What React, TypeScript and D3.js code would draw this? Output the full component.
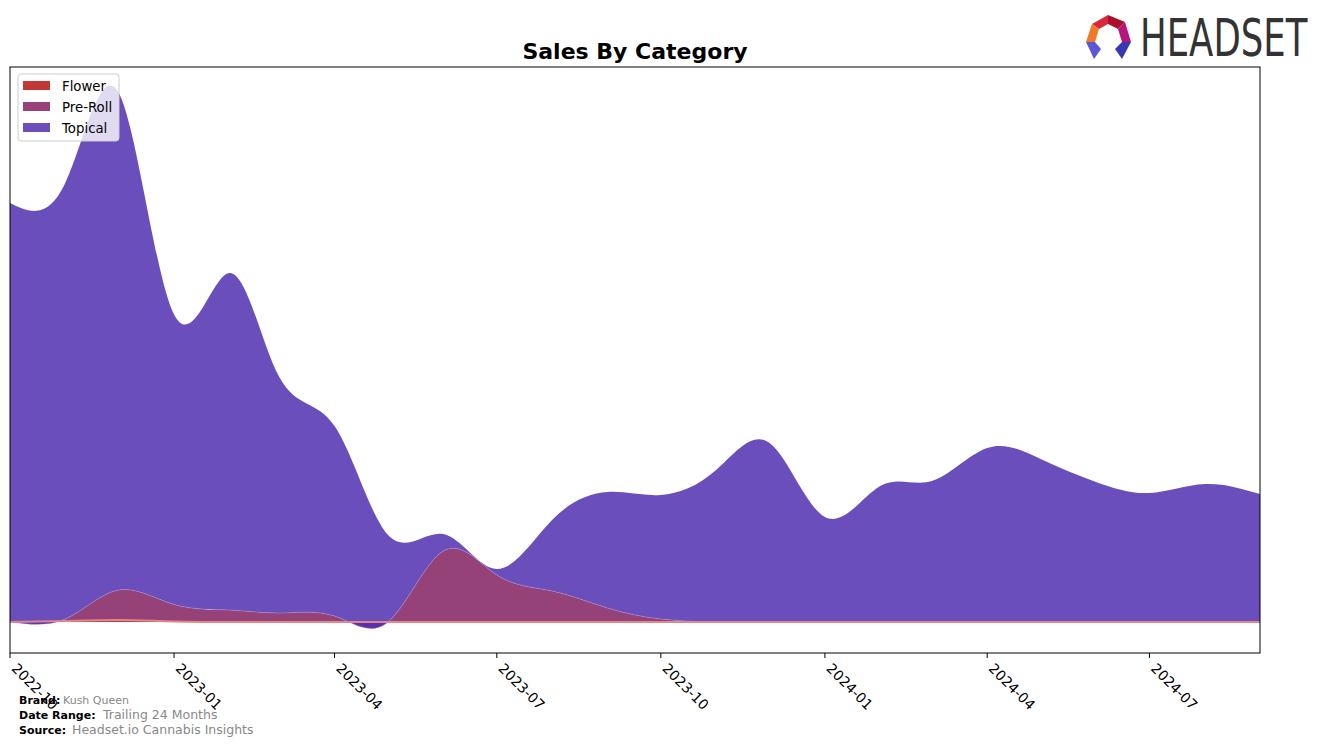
import React from "react";
import * as d3 from "d3";

const months = [
  "2022-10", "2022-11", "2022-12", "2023-01", "2023-02", "2023-03",
  "2023-04", "2023-05", "2023-06", "2023-07", "2023-08", "2023-09",
  "2023-10", "2023-11", "2023-12", "2024-01", "2024-02", "2024-03",
  "2024-04", "2024-05", "2024-06", "2024-07", "2024-08", "2024-09",
];
const flower = [0, 1, 2, 0.5, 0, 0, 0, 0, 0, 0, 0, 0, 0, 0, 0, 0, 0, 0, 0, 0, 0, 0, 0, 0];
const preRoll = [0, 2, 30, 17, 12, 9, 6, 0, 71, 47, 31, 14, 3, 0, 0, 0, 0, 0, 0, 0, 0, 0, 0, 0];
const topical = [419, 436, 497, 290, 337, 236, 190, 87, 17, 6, 71, 116, 124, 152, 179, 105, 136, 141, 174, 163, 140, 129, 138, 128];

const seriesNames = ["Flower", "Pre-Roll", "Topical"];
const seriesColors = ["#b81414", "#832160", "#502fb0"];
const legendColors = ["#c43737", "#984279", "#6a4ebc"];

const yDomain = [-31, 555];

const W = 1324;
const H = 747;
const plot = { left: 10, right: 1260, top: 67, bottom: 653 };

export default function App() {
  const parse = d3.timeParse("%Y-%m");
  const dates = months.map((m) => parse(m) as Date);
  const rows = months.map((m, i) => ({
    date: dates[i],
    Flower: flower[i],
    "Pre-Roll": preRoll[i],
    Topical: topical[i],
  }));
  const stack = d3.stack<any>().keys(seriesNames);
  const layers = stack(rows);

  const x = d3
    .scaleTime()
    .domain([dates[0], dates[dates.length - 1]])
    .range([plot.left, plot.right]);
  const y = d3.scaleLinear().domain(yDomain).range([plot.bottom, plot.top]);

  const area = d3
    .area<any>()
    .x((d) => x(d.data.date))
    .y0((d) => y(d[0]))
    .y1((d) => y(d[1]))
    .curve(d3.curveNatural);
  const line = d3
    .line<any>()
    .x((d) => x(d.data.date))
    .y((d) => y(d[1]))
    .curve(d3.curveNatural);

  const ticks = d3.timeMonth.every(3)!.range(dates[0], d3.timeDay.offset(dates[dates.length - 1], 1));
  const fmt = d3.timeFormat("%Y-%m");
  const font = "DejaVu Sans, sans-serif";

  return (
    <svg
      width={W}
      height={H}
      style={{ position: "absolute", left: 0, top: 0, background: "#fff" }}
      fontFamily={font}
    >
      <defs>
        <clipPath id="plotclip">
          <rect x={plot.left} y={plot.top} width={plot.right - plot.left} height={plot.bottom - plot.top} />
        </clipPath>
      </defs>
      <text x={635} y={59} textAnchor="middle" fontSize={22} fontWeight="bold" fill="#000">
        Sales By Category
      </text>
      <g clipPath="url(#plotclip)">
        {layers.map((layer, i) => (
          <path key={seriesNames[i]} d={area(layer) || ""} fill={seriesColors[i]} fillOpacity={0.85} />
        ))}
        <path d={line(layers[1]) || ""} fill="none" stroke="#c8a8e0" strokeOpacity={0.6} strokeWidth={0.6} />
        <path d={line(layers[0]) || ""} fill="none" stroke="#e08888" strokeWidth={2} />
      </g>
      <rect
        x={plot.left}
        y={plot.top}
        width={plot.right - plot.left}
        height={plot.bottom - plot.top}
        fill="none"
        stroke="#000"
        strokeWidth={1}
      />
      {ticks.map((t) => {
        const tx = x(t);
        return (
          <g key={fmt(t)}>
            <line x1={tx} x2={tx} y1={plot.bottom} y2={plot.bottom + 5} stroke="#000" />
            <text
              transform={`translate(${tx + 8},${plot.bottom + 9}) rotate(45)`}
              fontSize={14}
              dominantBaseline="hanging"
              fill="#000"
            >
              {fmt(t)}
            </text>
          </g>
        );
      })}
      <g>
        <rect x={18} y={74} width={101} height={67} rx={3} fill="#fff" fillOpacity={0.8} stroke="#ccc" />
        {seriesNames.map((n, i) => (
          <g key={n}>
            <rect x={23} y={81 + i * 21} width={27} height={9} fill={legendColors[i]} />
            <text x={62} y={91 + i * 21} fontSize={13.3} fill="#000">
              {n}
            </text>
          </g>
        ))}
      </g>
      <g fontSize={11}>
        <text x={19} y={704} fontWeight="bold" fill="#000">Brand:</text>
        <text x={63} y={704} fill="#888">Kush Queen</text>
        <text x={19} y={719} fontWeight="bold" fill="#000">Date Range:</text>
        <text x={103} y={719} fill="#888" fontSize={12.5}>Trailing 24 Months</text>
        <text x={19} y={734} fontWeight="bold" fill="#000">Source:</text>
        <text x={72} y={734} fill="#888" fontSize={12.5}>Headset.io Cannabis Insights</text>
      </g>
      <g>
        <polygon points="1092,24 1108,15 1108,24 1099,29" fill="#d8283a" />
        <polygon points="1108,15 1125,22 1118,29 1108,24" fill="#a8102e" />
        <polygon points="1125,22 1131,42 1122,42 1118,29" fill="#b8157a" />
        <polygon points="1092,24 1099,29 1095,42 1086,42" fill="#f07a28" />
        <polygon points="1086,42 1095,42 1101,49 1094,59" fill="#5a58d8" />
        <polygon points="1131,42 1122,42 1115,49 1122,59" fill="#3a38b0" />
        <text
          transform="translate(1140,56) scale(1,1.45)"
          fontSize={35.5}
          fill="#333"
        >
          HEADSET
        </text>
      </g>
    </svg>
  );
}
